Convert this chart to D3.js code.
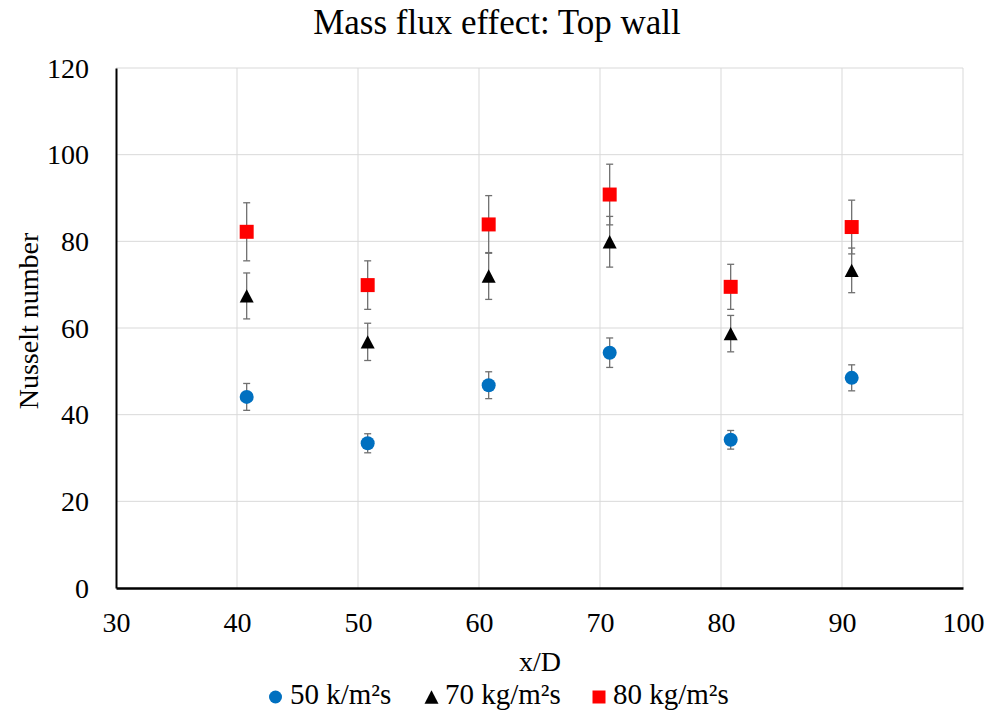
<!DOCTYPE html>
<html><head><meta charset="utf-8">
<script src="https://cdn.jsdelivr.net/npm/d3@7"></script>
<style>body{margin:0;background:#fff}</style>
</head><body><svg id="c" width="990" height="715"></svg>
<script>
const xPos = [40.8, 50.8, 60.8, 70.8, 80.8, 90.8];
const s50 = [44.1, 33.4, 46.8, 54.3, 34.2, 48.5];
const e50 = [3.1, 2.2, 3.1, 3.4, 2.15, 3.0];
const s70 = [67.4, 56.8, 72.0, 79.9, 58.7, 73.3];
const e70 = [5.3, 4.3, 5.4, 5.85, 4.2, 5.15];
const s80 = [82.2, 69.9, 83.9, 90.8, 69.5, 83.3];
const e80 = [6.7, 5.6, 6.65, 7.0, 5.2, 6.2];
const xTicks = [30, 40, 50, 60, 70, 80, 90, 100];
const yTicks = [0, 20, 40, 60, 80, 100, 120];
const seriesNames = ["50 k/m²s", "70 kg/m²s", "80 kg/m²s"];

const FONT = "'Liberation Serif', 'Times New Roman', Tinos, serif";
const svg = d3.select("#c");
const L = 116, R = 963, T = 68, B = 588;
const x = d3.scaleLinear().domain([30, 100]).range([L, R]);
const y = d3.scaleLinear().domain([0, 120]).range([B, T]);

function txt(sel, size) {
  return sel.style("font-family", FONT).style("font-size", size + "px").style("fill", "#000");
}

// gridlines
svg.append("g").selectAll("line").data(yTicks.slice(1)).join("line")
  .attr("x1", L).attr("x2", R).attr("y1", d => y(d)).attr("y2", d => y(d))
  .attr("stroke", "#d9d9d9").attr("stroke-width", 1);
svg.append("g").selectAll("line").data(xTicks.slice(1)).join("line")
  .attr("y1", T).attr("y2", B).attr("x1", d => x(d)).attr("x2", d => x(d))
  .attr("stroke", "#d9d9d9").attr("stroke-width", 1);

// axes
const ya = svg.append("g").attr("transform", `translate(${L},0)`)
  .call(d3.axisLeft(y).tickValues(yTicks).tickSize(0).tickPadding(27));
ya.select(".domain").attr("stroke", "#000").attr("stroke-width", 2);
txt(ya.selectAll("text"), 28).attr("dy", "0.33em");
const xa = svg.append("g").attr("transform", `translate(0,${B})`)
  .call(d3.axisBottom(x).tickValues(xTicks).tickSize(0));
xa.select(".domain").attr("stroke", "#000").attr("stroke-width", 2.5);
txt(xa.selectAll("text"), 28).attr("y", 44).attr("dy", 0);

const triangle = {
  draw(ctx, size) {
    const w = Math.sqrt(size), h = w * 0.95;
    ctx.moveTo(0, -h / 2); ctx.lineTo(w / 2, h / 2); ctx.lineTo(-w / 2, h / 2); ctx.closePath();
  }
};
const square = {
  draw(ctx, size) { const w = Math.sqrt(size); ctx.rect(-w / 2, -w / 2, w, w); }
};
const circle = {
  draw(ctx, size) { const r = Math.sqrt(size) / 2; ctx.moveTo(r, 0); ctx.arc(0, 0, r, 0, 2 * Math.PI); }
};

const series = [
  {v: s50, e: e50, type: circle, color: "#0070c0"},
  {v: s70, e: e70, type: triangle, color: "#000000"},
  {v: s80, e: e80, type: square, color: "#ff0000"}
];

series.forEach(s => {
  const g = svg.append("g");
  s.v.forEach((v, i) => {
    const cx = x(xPos[i]);
    const y1 = y(v + s.e[i]), y2 = y(v - s.e[i]);
    g.append("line").attr("x1", cx).attr("x2", cx).attr("y1", y1).attr("y2", y2)
      .attr("stroke", "#707070").attr("stroke-width", 1.3);
    [y1, y2].forEach(yy => g.append("line").attr("x1", cx - 3.5).attr("x2", cx + 3.5)
      .attr("y1", yy).attr("y2", yy).attr("stroke", "#707070").attr("stroke-width", 1.3));
  });
});
series.forEach(s => {
  svg.append("g").selectAll("path").data(s.v).join("path")
    .attr("transform", (d, i) => `translate(${x(xPos[i])},${y(d)})`)
    .attr("d", d3.symbol().type(s.type).size(196))
    .attr("fill", s.color);
});

// titles
txt(svg.append("text").attr("x", 497).attr("y", 34).attr("text-anchor", "middle"), 35)
  .text("Mass flux effect: Top wall");
txt(svg.append("text").attr("transform", `translate(38,321) rotate(-90)`)
  .attr("text-anchor", "middle"), 28).text("Nusselt number");
txt(svg.append("text").attr("x", 540).attr("y", 671).attr("text-anchor", "middle"), 28).text("x/D");

// legend
const leg = [
  {mx: 275.5, tx: 290},
  {mx: 431.5, tx: 445},
  {mx: 599, tx: 613}
];
series.forEach((s, i) => {
  svg.append("path").attr("transform", `translate(${leg[i].mx},${697})`)
    .attr("d", d3.symbol().type(s.type).size(i === 1 ? 196 : 169)).attr("fill", s.color);
  txt(svg.append("text").attr("x", leg[i].tx).attr("y", 704), 29).text(seriesNames[i]);
});
</script></body></html>
